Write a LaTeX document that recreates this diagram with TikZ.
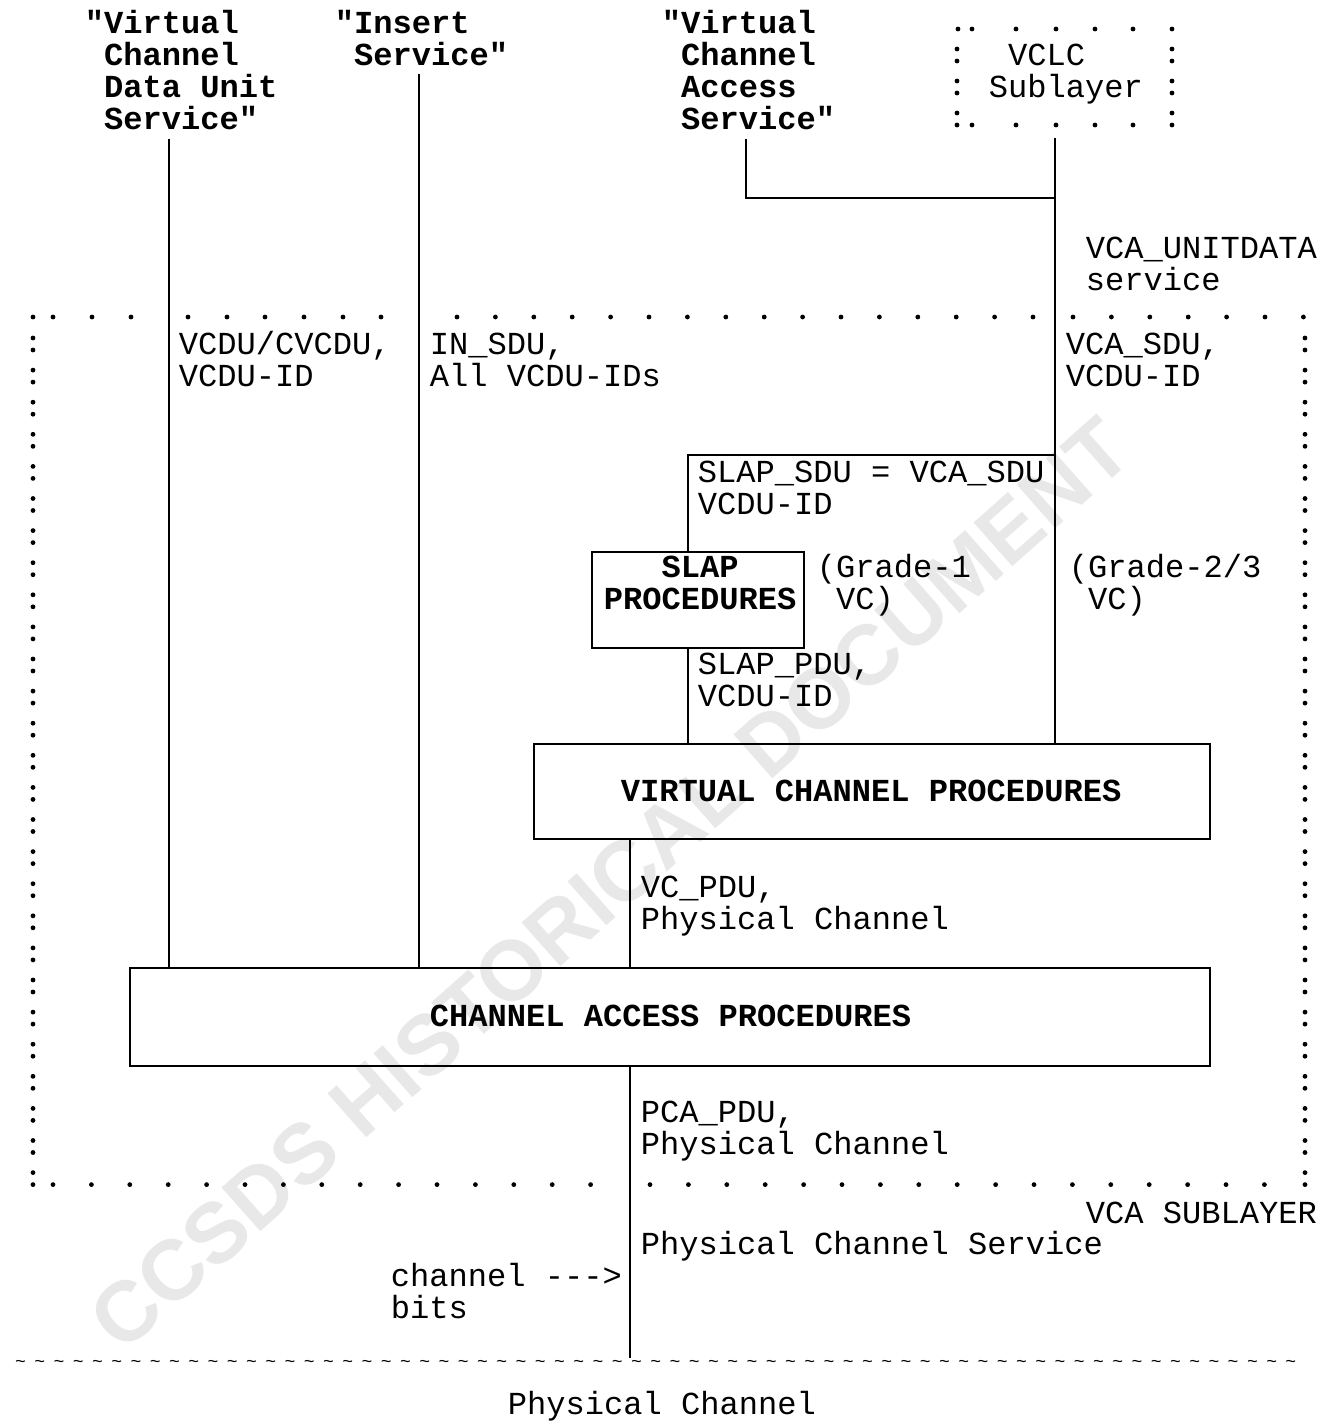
\documentclass[tikz,border=0pt]{standalone}
\usepackage{fontspec}
\usepackage{graphicx}
\setmonofont{Liberation Mono}
\setsansfont{Liberation Sans}
\usetikzlibrary{fit}
\setlength{\lineskiplimit}{-50pt}

\ExplSyntaxOn
\newcommand\tilderow[1]{\prg_replicate:nn{#1}{\makebox[9.625pt]{\fontsize{9}{9}\selectfont\textasciitilde}}}
\ExplSyntaxOff

\tikzset{
  lbl/.style={anchor=base west, inner xsep=0pt, inner ysep=4pt, align=left,
    font=\ttfamily\fontsize{16.04}{16.05}\selectfont},
  blbl/.style={lbl, font=\ttfamily\bfseries\fontsize{16.04}{16.05}\selectfont},
  procbox/.style={draw, line width=0.9pt, inner sep=0pt},
  wmark/.style={font=\sffamily\bfseries\fontsize{42.5}{42.5}\selectfont, text=black!9, inner sep=0pt}
}

\begin{document}
\begin{tikzpicture}[x=0.5pt, y=-0.5pt, line width=0.9pt]
  \fill[white] (0,0) rectangle (1331,1425);
  \useasboundingbox (0,0) rectangle (1331,1425);

  % watermark
  \node[wmark, rotate=41.5] (wm) at (610,884) {CCSDS HISTORICAL DOCUMENT};

  % service access points (top), base = last line
  \node[blbl] (vcdusvc) at (84,129.3) {"Virtual\\\ Channel\\\ Data Unit\\\ Service"};
  \node[blbl] (insertsvc) at (334,65.1) {"Insert\\\ Service"};
  \node[blbl] (vcasvc) at (661,129.3) {"Virtual\\\ Channel\\\ Access\\\ Service"};

  % VCLC sublayer (dotted)
  \node[fit={(957,22) (1172,129)}, inner sep=4pt] (vclc) {};
  \node[lbl] (vclctxt) at (988,97.2) {\ VCLC\\Sublayer};
  \foreach \x in {958,972,1016,1056,1095,1133,1172}
    \fill (\x,29) circle[radius=1.2pt];
  \foreach \y in {49,61,81,93,113,125}
    \fill (957,\y) circle[radius=1.2pt] (1172,\y) circle[radius=1.2pt];
  \foreach \x in {972,1016,1056,1095,1133}
    \fill (\x,125) circle[radius=1.2pt];

  % VCA sublayer (dotted frame)
  \foreach \x in {33,53,92,131,188,227,265,304,343,381}
    \fill (\x,317) circle[radius=1.2pt];
  \foreach \i in {0,...,15}
    \fill ({457+38.4*\i},317) circle[radius=1.2pt];
  \foreach \i in {0,...,6}
    \fill ({1073+38.4*\i},317) circle[radius=1.2pt];
  \foreach \k in {10,...,36}
    \fill (33,{17+32.1*\k}) circle[radius=1.2pt] (33,{29+32.1*\k}) circle[radius=1.2pt]
          (1305,{17+32.1*\k}) circle[radius=1.2pt] (1305,{29+32.1*\k}) circle[radius=1.2pt];
  \foreach \i in {0,...,14}
    \fill ({53+38.4*\i},1184.6) circle[radius=1.2pt];
  \foreach \i in {0,...,16}
    \fill ({650+38.4*\i},1184.6) circle[radius=1.2pt];

  % procedures
  \node[procbox, fit={(592,552) (804,648)}] (slap) {};
  \node[procbox, fit={(534,744) (1210,839)}] (vcp) {};
  \node[procbox, fit={(130,968) (1210,1066)}] (cap) {};
  \node[blbl, align=center] (slaptxt) at (603,609.1) {SLAP\\PROCEDURES};
  \node[blbl] (vcptxt) at (620,801) {VIRTUAL CHANNEL PROCEDURES};
  \node[blbl] (captxt) at (429,1026) {CHANNEL ACCESS PROCEDURES};

  % data unit labels
  \node[lbl] (unitdata) at (1085,290.1) {VCA\_UNITDATA\\service};
  \node[lbl] (vcdulab) at (178,386.1) {VCDU/CVCDU,\\VCDU-ID};
  \node[lbl] (inlab) at (429,386.1) {IN\_SDU,\\All VCDU-IDs};
  \node[lbl] (vcalab) at (1065,386.1) {VCA\_SDU,\\VCDU-ID};
  \node[lbl] (sdulab) at (697,514.1) {SLAP\_SDU = VCA\_SDU\\VCDU-ID};
  \node[lbl] (grade1) at (816,609.1) {(Grade-1\\\ VC)};
  \node[lbl] (grade23) at (1068,609.1) {(Grade-2/3\\\ VC)};
  \node[lbl] (pdulab) at (697,706.1) {SLAP\_PDU,\\VCDU-ID};
  \node[lbl] (vcpdu) at (640,929.1) {VC\_PDU,\\Physical Channel};
  \node[lbl] (pcapdu) at (640,1154.1) {PCA\_PDU,\\Physical Channel};
  \node[lbl] (sublayer) at (1085,1223) {VCA SUBLAYER};
  \node[lbl] (pcs) at (640,1254) {Physical Channel Service};
  \node[lbl] (bits) at (390,1318.1) {channel -{}-{}->\\bits};
  \node[lbl] (medium) at (10,1367) {\tilderow{67}};
  \node[lbl] (physch) at (507,1414) {Physical Channel};

  % connections
  \coordinate (vcatap) at (1055,198);
  \coordinate (sdutap) at (1055,455);
  \coordinate (chfoot) at (630,1358);
  \draw (169,0 |- vcdusvc.south) -- (169,0 |- cap.north);
  \draw (419,0 |- insertsvc.south) -- (419,0 |- cap.north);
  \draw (746,0 |- vcasvc.south) |- (vcatap);
  \draw (1055,0 |- vclc.south) -- (1055,0 |- vcp.north);
  \draw (sdutap) -| (688,0 |- slap.north);
  \draw (688,0 |- slap.south) -- (688,0 |- vcp.north);
  \draw (630,0 |- vcp.south) -- (630,0 |- cap.north);
  \draw (630,0 |- cap.south) -- (chfoot);
\end{tikzpicture}
\end{document}
